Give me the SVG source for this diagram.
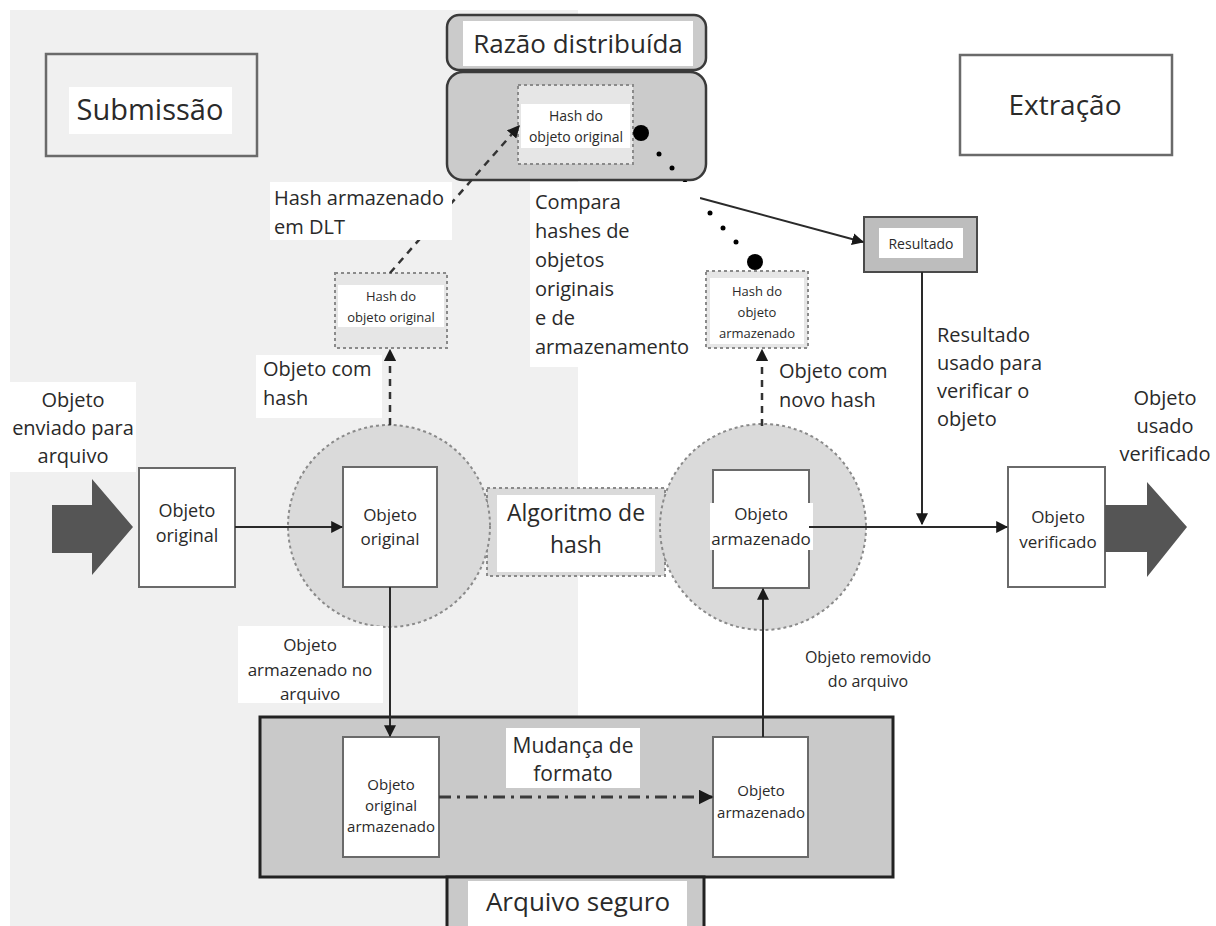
<svg xmlns="http://www.w3.org/2000/svg" width="1216" height="926" viewBox="0 0 1216 926">
  <defs>
    <style>
      text { font-family: "Open Sans", "Noto Sans", "DejaVu Sans", sans-serif; fill: #2a2a2a; }
      .c { text-anchor: middle; }
      .box { fill: #ffffff; stroke: #6a6a6a; stroke-width: 2; }
      .frame { fill: none; stroke: #6a6a6a; stroke-width: 2.5; }
      .dots { stroke: #8a8a8a; stroke-width: 2; stroke-dasharray: 3 3; }
      .bg { fill: #ffffff; }
      .line { stroke: #2a2a2a; stroke-width: 2; fill: none; }
      .dash { stroke: #333333; stroke-width: 2.5; stroke-dasharray: 7 6; fill: none; }
      .dashdot { stroke: #3a3a3a; stroke-width: 3; stroke-dasharray: 12 6 3 6; fill: none; }
      .blob { fill: #000000; }
    </style>
    <marker id="arr" viewBox="0 0 10 10" refX="9" refY="5" markerWidth="6" markerHeight="6" markerUnits="strokeWidth" orient="auto">
      <path d="M0,0 L10,5 L0,10 Z" fill="#1a1a1a"/>
    </marker>
    <marker id="arrD" viewBox="0 0 10 10" refX="9" refY="5" markerWidth="5" markerHeight="5" markerUnits="strokeWidth" orient="auto">
      <path d="M0,0 L10,5 L0,10 Z" fill="#1a1a1a"/>
    </marker>
  </defs>

  <!-- page backgrounds -->
  <rect x="0" y="0" width="1216" height="926" fill="#ffffff"/>
  <rect x="10" y="10" width="568" height="916" fill="#f0f0f0"/>

  <!-- phase headings -->
  <g id="submissao">
    <rect class="frame" x="46" y="54" width="211" height="102"/>
    <rect class="bg" x="69" y="87" width="163" height="47"/>
    <text class="c" x="150" y="120" font-size="29">Submissão</text>
  </g>
  <g id="extracao">
    <rect class="frame" x="960" y="55" width="212" height="100"/>
    <text class="c" x="1065" y="115" font-size="28">Extração</text>
  </g>

  <!-- distributed ledger -->
  <g id="razao">
    <rect x="447" y="72" width="259" height="108" rx="16" fill="#cbcbcb" stroke="#3a3a3a" stroke-width="2.5"/>
    <rect x="447" y="15" width="259" height="55" rx="12" fill="#cbcbcb" stroke="#3a3a3a" stroke-width="2.5"/>
    <rect class="bg" x="463" y="21" width="230" height="45"/>
    <text class="c" x="578" y="53" font-size="26">Razão distribuída</text>
    <rect class="dots" x="518" y="85" width="115" height="79" fill="#e6e6e6"/>
    <rect class="bg" x="521" y="104" width="109" height="44"/>
    <text class="c" x="576" y="121" font-size="14">Hash do</text>
    <text class="c" x="576" y="142" font-size="14">objeto original</text>
  </g>

  <!-- hash boxes -->
  <g id="hash-original">
    <rect class="dots" x="335" y="273" width="112" height="75" fill="#e6e6e6"/>
    <rect class="bg" x="338" y="285" width="106" height="42"/>
    <text class="c" x="391" y="301" font-size="13">Hash do</text>
    <text class="c" x="391" y="322" font-size="13">objeto original</text>
  </g>
  <g id="hash-armazenado">
    <rect class="dots" x="706" y="271" width="102" height="77" fill="#e6e6e6"/>
    <rect class="bg" x="710" y="278" width="94" height="66"/>
    <text class="c" x="757" y="296" font-size="13">Hash do</text>
    <text class="c" x="757" y="317" font-size="13">objeto</text>
    <text class="c" x="757" y="338" font-size="13">armazenado</text>
  </g>

  <!-- result -->
  <g id="resultado">
    <rect x="864" y="217" width="113" height="55" fill="#bdbdbd" stroke="#4a4a4a" stroke-width="2"/>
    <rect class="bg" x="879" y="228" width="84" height="30"/>
    <text class="c" x="921" y="249" font-size="14">Resultado</text>
  </g>

  <!-- hashing circles and algorithm -->
  <g id="algoritmo">
    <rect class="dots" x="487" y="488" width="178" height="88" fill="#dadada"/>
    <rect class="bg" x="497" y="495" width="158" height="77"/>
    <text class="c" x="576" y="521" font-size="23">Algoritmo de</text>
    <text class="c" x="576" y="553" font-size="23">hash</text>
  </g>
  <g id="circulo-submissao">
    <circle class="dots" cx="389" cy="526" r="101" fill="#dadada"/>
    <rect class="box" x="343" y="467" width="94" height="120"/>
    <text class="c" x="390" y="521" font-size="17">Objeto</text>
    <text class="c" x="390" y="545" font-size="17">original</text>
  </g>
  <g id="circulo-extracao">
    <circle class="dots" cx="763" cy="527" r="103" fill="#dadada"/>
    <rect class="box" x="713" y="470" width="96" height="118"/>
    <rect class="bg" x="710" y="503" width="103" height="47"/>
    <text class="c" x="761" y="520" font-size="17">Objeto</text>
    <text class="c" x="761" y="545" font-size="17">armazenado</text>
  </g>

  <!-- objects in and out -->
  <g id="objeto-original">
    <rect class="box" x="139" y="468" width="96" height="119"/>
    <text class="c" x="187" y="517" font-size="18">Objeto</text>
    <text class="c" x="187" y="542" font-size="18">original</text>
  </g>
  <g id="seta-entrada">
    <path d="M52,505 L92,505 L92,479 L133,527 L92,575 L92,553 L52,553 Z" fill="#555555"/>
  </g>
  <g id="objeto-verificado">
    <rect class="box" x="1008" y="467" width="97" height="120"/>
    <text class="c" x="1058" y="523" font-size="17">Objeto</text>
    <text class="c" x="1058" y="548" font-size="17">verificado</text>
  </g>
  <g id="seta-saida">
    <path d="M1105,505 L1147,505 L1147,482 L1187,527 L1147,577 L1147,552 L1105,552 Z" fill="#555555"/>
  </g>

  <!-- secure archive -->
  <g id="arquivo-seguro">
    <rect x="260" y="717" width="633" height="160" fill="#c9c9c9" stroke="#222222" stroke-width="3"/>
    <rect x="447" y="877" width="257" height="60" fill="#c9c9c9" stroke="#222222" stroke-width="3"/>
    <rect class="bg" x="468" y="881" width="219" height="45"/>
    <text class="c" x="578" y="911" font-size="26">Arquivo seguro</text>
  </g>
  <g id="objeto-original-armazenado">
    <rect class="box" x="343" y="737" width="96" height="120"/>
    <text class="c" x="391" y="790" font-size="15">Objeto</text>
    <text class="c" x="391" y="811" font-size="15">original</text>
    <text class="c" x="391" y="832" font-size="15">armazenado</text>
  </g>
  <g id="objeto-armazenado">
    <rect class="box" x="713" y="737" width="95" height="120"/>
    <text class="c" x="761" y="796" font-size="15">Objeto</text>
    <text class="c" x="761" y="818" font-size="15">armazenado</text>
  </g>

  <!-- connectors -->
  <g id="conectores">
    <line class="line" x1="235" y1="527" x2="342" y2="527" marker-end="url(#arr)"/>
    <line class="line" x1="809" y1="527" x2="1007" y2="527" marker-end="url(#arr)"/>
    <line class="line" x1="922" y1="272" x2="922" y2="524" marker-end="url(#arr)"/>
    <line class="line" x1="700" y1="198" x2="863" y2="242" marker-end="url(#arr)"/>
    <line class="line" x1="390" y1="587" x2="390" y2="736" marker-end="url(#arr)"/>
    <line class="line" x1="763" y1="737" x2="763" y2="589" marker-end="url(#arr)"/>
    <line class="dashdot" x1="439" y1="797" x2="712" y2="797" marker-end="url(#arrD)"/>
    <line class="dash" x1="390" y1="425" x2="390" y2="350" marker-end="url(#arrD)"/>
    <line class="dash" x1="762" y1="426" x2="762" y2="350" marker-end="url(#arrD)"/>
    <line class="dash" x1="390" y1="273" x2="519" y2="126" marker-end="url(#arrD)"/>
    <!-- comparison trail -->
    <circle class="blob" cx="641" cy="133" r="8"/>
    <circle class="blob" cx="659" cy="154" r="2.5"/>
    <circle class="blob" cx="672" cy="168" r="2.5"/>
    <circle class="blob" cx="685" cy="183" r="2.5"/>
    <circle class="blob" cx="710" cy="213" r="2.5"/>
    <circle class="blob" cx="723" cy="228" r="2.5"/>
    <circle class="blob" cx="736" cy="242" r="2.5"/>
    <circle class="blob" cx="755" cy="262" r="8"/>
  </g>

  <!-- labels -->
  <g id="rotulos">
    <rect class="bg" x="270" y="182" width="182" height="58"/>
    <text x="274" y="205" font-size="20">Hash armazenado</text>
    <text x="274" y="234" font-size="20">em DLT</text>

    <rect class="bg" x="530" y="182" width="170" height="185"/>
    <text x="535" y="209" font-size="20">Compara</text>
    <text x="535" y="238" font-size="20">hashes de</text>
    <text x="535" y="267" font-size="20">objetos</text>
    <text x="535" y="296" font-size="20">originais</text>
    <text x="535" y="325" font-size="20">e de</text>
    <text x="535" y="354" font-size="20">armazenamento</text>

    <rect class="bg" x="256" y="355" width="126" height="63"/>
    <text x="263" y="376" font-size="20">Objeto com</text>
    <text x="263" y="405" font-size="20">hash</text>

    <text x="779" y="378" font-size="20">Objeto com</text>
    <text x="779" y="407" font-size="20">novo hash</text>

    <rect class="bg" x="10" y="382" width="126" height="90"/>
    <text class="c" x="73" y="407" font-size="20">Objeto</text>
    <text class="c" x="73" y="435" font-size="20">enviado para</text>
    <text class="c" x="73" y="463" font-size="20">arquivo</text>

    <text x="937" y="342" font-size="20">Resultado</text>
    <text x="937" y="370" font-size="20">usado para</text>
    <text x="937" y="398" font-size="20">verificar o</text>
    <text x="937" y="426" font-size="20">objeto</text>

    <text class="c" x="1165" y="405" font-size="20">Objeto</text>
    <text class="c" x="1165" y="433" font-size="20">usado</text>
    <text class="c" x="1165" y="461" font-size="20">verificado</text>

    <rect class="bg" x="238" y="626" width="145" height="77"/>
    <text class="c" x="310" y="651" font-size="17">Objeto</text>
    <text class="c" x="310" y="676" font-size="17">armazenado no</text>
    <text class="c" x="310" y="700" font-size="17">arquivo</text>

    <text class="c" x="868" y="663" font-size="16">Objeto removido</text>
    <text class="c" x="868" y="687" font-size="16">do arquivo</text>

    <rect class="bg" x="506" y="728" width="134" height="60"/>
    <text class="c" x="573" y="753" font-size="21">Mudança de</text>
    <text class="c" x="573" y="781" font-size="21">formato</text>
  </g>
</svg>
